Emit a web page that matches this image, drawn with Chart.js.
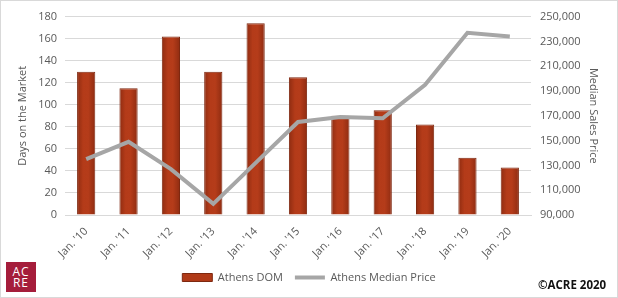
<!DOCTYPE html>
<html>
<head>
<meta charset="utf-8">
<script src="https://cdn.jsdelivr.net/npm/chart.js@4"></script>
<style>
  html, body { margin: 0; padding: 0; background: #fff; }
  #wrap {
    position: relative; width: 618px; height: 298px;
    box-sizing: border-box; border: 1px solid #d9d9d9; background: #fff;
  }
  #logo {
    position: absolute; left: 5px; top: 261px; width: 30px; height: 30px;
    background: #a51d3b; color: #fff; font-family: "Open Sans", sans-serif;
    font-size: 12px; line-height: 11px; text-align: center; letter-spacing: 1px;
    padding-top: 4px; box-sizing: border-box;
  }
  #copy {
    position: absolute; left: 537px; top: 276px;
    font-family: "Open Sans", sans-serif; font-weight: bold; font-size: 11.5px; color: #111;
  }
</style>
</head>
<body>
<div id="wrap">
  <canvas id="chart" width="616" height="296"></canvas>
  <div id="logo">AC<br>RE</div>
  <div id="copy">©ACRE 2020</div>
</div>
<script>
// values
const years = ["Jan. '10", "Jan. '11", "Jan. '12", "Jan. '13", "Jan. '14", "Jan. '15",
               "Jan. '16", "Jan. '17", "Jan. '18", "Jan. '19", "Jan. '20"];
const athensDom = [130, 115, 162, 130, 174, 125, 90, 95, 82, 52, 43];
const athensMedianPrice = [135000, 149000, 127000, 99000, 132000, 165000,
                           169000, 168000, 195000, 237000, 234000];

const tickFont = { family: "Open Sans", size: 11 };
const tickColor = "#595959";
const barColor = "#b03a18";

// darker edges, lighter middle, like the shaded bars of the original
function barFill(c) {
  const chart = c.chart;
  const xs = chart.scales.x;
  if (!xs || !chart.chartArea || c.dataIndex === undefined) return barColor;
  const cx = xs.getPixelForValue(c.dataIndex);
  const half = 10;
  const g = chart.ctx.createLinearGradient(cx - half, 0, cx + half, 0);
  g.addColorStop(0, "#8a2a10");
  g.addColorStop(0.35, "#b43b19");
  g.addColorStop(0.6, "#b53c1a");
  g.addColorStop(1, "#8a2a10");
  return g;
}

document.addEventListener("DOMContentLoaded", function () {
  const ctx = document.getElementById("chart").getContext("2d");
  new Chart(ctx, {
    type: "bar",
    data: {
      labels: years,
      datasets: [
        {
          label: "Athens DOM",
          data: athensDom,
          yAxisID: "y",
          order: 1,
          backgroundColor: barFill,
          borderColor: "#7e2810",
          borderWidth: 1,
          barPercentage: 0.43,
          categoryPercentage: 1,
        },
        {
          type: "line",
          label: "Athens Median Price",
          data: athensMedianPrice,
          yAxisID: "y1",
          order: 0,
          borderColor: "#a6a6a6",
          backgroundColor: "#a6a6a6",
          borderWidth: 4,
          pointRadius: 0,
          tension: 0,
        },
      ],
    },
    options: {
      responsive: false,
      animation: false,
      layout: { padding: { top: 13, bottom: 4, left: 0, right: 0 } },
      plugins: {
        tooltip: { enabled: false },
        legend: {
          position: "bottom",
          labels: {
            usePointStyle: true,
            pointStyleWidth: 30,
            boxHeight: 8,
            color: tickColor,
            font: { family: "Open Sans", size: 11 },
            padding: 12,
            sort: (a, b) => a.datasetIndex - b.datasetIndex,
            generateLabels: function (chart) {
              return chart.data.datasets.map((ds, i) => ({
                text: ds.label,
                datasetIndex: i,
                fillStyle: ds.type === "line" ? ds.borderColor : barColor,
                strokeStyle: ds.borderColor,
                lineWidth: ds.type === "line" ? 4 : 1,
                pointStyle: ds.type === "line" ? "line" : "rect",
                fontColor: tickColor,
              }));
            },
          },
        },
      },
      scales: {
        x: {
          grid: { display: false },
          border: { color: "#d9d9d9" },
          ticks: { color: tickColor, font: tickFont, maxRotation: 45, minRotation: 45, padding: 2 },
          afterFit: (s) => { s.height = 45; },
        },
        y: {
          position: "left",
          min: 0,
          max: 180,
          ticks: { stepSize: 20, color: tickColor, font: tickFont, padding: 8 },
          grid: { color: "#d9d9d9", drawTicks: false },
          border: { display: false },
          title: { display: true, text: "Days on the Market", color: tickColor, font: tickFont, padding: 15 },
          afterFit: (s) => { s.width = 64; },
        },
        y1: {
          position: "right",
          min: 90000,
          max: 250000,
          ticks: {
            stepSize: 20000,
            color: tickColor,
            font: tickFont,
            padding: 9,
            callback: (v) => v.toLocaleString("en-US"),
          },
          grid: { display: false, drawTicks: false },
          border: { display: false },
          title: { display: true, text: "Median Sales Price", color: tickColor, font: tickFont, padding: 17 },
          afterFit: (s) => { s.width = 86; },
        },
      },
    },
  });
});
</script>
</body>
</html>
